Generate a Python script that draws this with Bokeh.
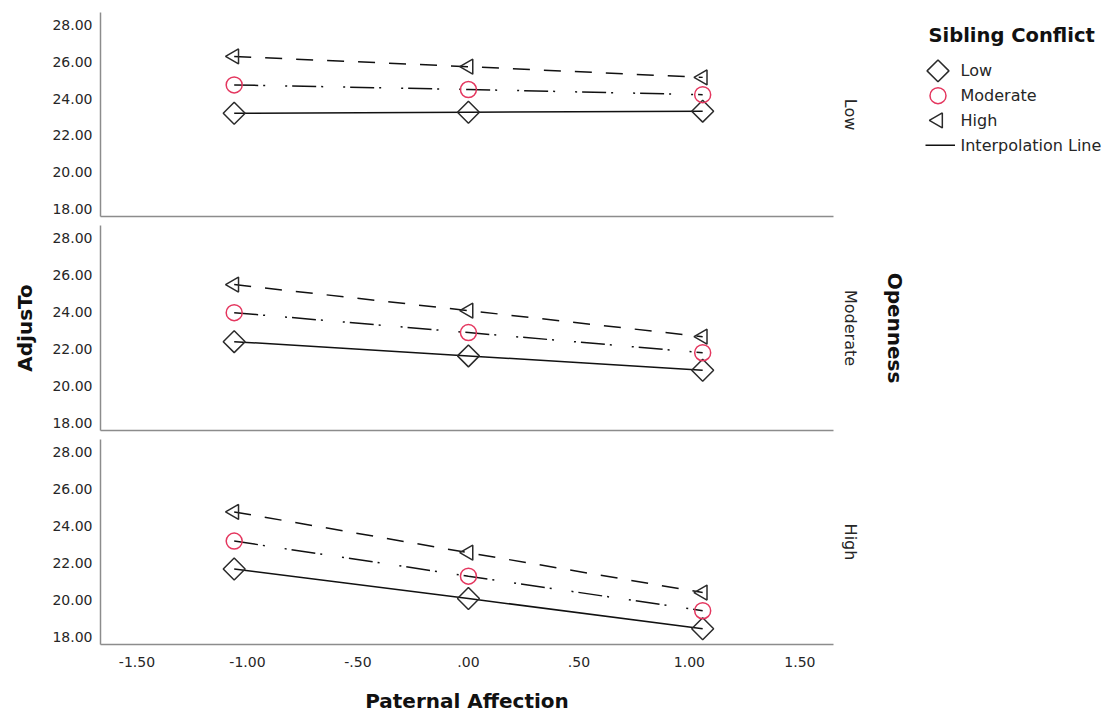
import math

from bokeh.core.properties import value
from bokeh.embed import file_html
from bokeh.layouts import column, row
from bokeh.models import FactorRange, FixedTicker, Range1d, Title
from bokeh.plotting import figure
from bokeh.resources import INLINE

# ---- data -----------------------------------------------------------------
paternal_affection = [-1.06, 0.0, 1.06]
openness_levels = ["Low", "Moderate", "High"]
conflict_levels = ["Low", "Moderate", "High"]

# mean AdjusTo for each Openness level, one list per Sibling Conflict level
low_openness_low_conflict = [23.20, 23.25, 23.31]
low_openness_moderate_conflict = [24.74, 24.49, 24.21]
low_openness_high_conflict = [26.29, 25.73, 25.15]

moderate_openness_low_conflict = [22.39, 21.62, 20.84]
moderate_openness_moderate_conflict = [23.96, 22.88, 21.79]
moderate_openness_high_conflict = [25.48, 24.07, 22.66]

high_openness_low_conflict = [21.67, 20.07, 18.43]
high_openness_moderate_conflict = [23.18, 21.28, 19.41]
high_openness_high_conflict = [24.76, 22.55, 20.39]

x_ticks = [-1.5, -1.0, -0.5, 0.0, 0.5, 1.0, 1.5]
x_tick_labels = ["-1.50", "-1.00", "-.50", ".00", ".50", "1.00", "1.50"]
y_ticks = [18, 20, 22, 24, 26, 28]
y_tick_labels = ["18.00", "20.00", "22.00", "24.00", "26.00", "28.00"]

legend_entries = conflict_levels + ["Interpolation Line"]

panel_series = {
    "Low": [low_openness_low_conflict, low_openness_moderate_conflict,
            low_openness_high_conflict],
    "Moderate": [moderate_openness_low_conflict, moderate_openness_moderate_conflict,
                 moderate_openness_high_conflict],
    "High": [high_openness_low_conflict, high_openness_moderate_conflict,
             high_openness_high_conflict],
}

# ---- styling --------------------------------------------------------------
FONT = "DejaVu Sans"
INK = "#262626"
AXIS_GREY = "#8c8c8c"
RED = "#e4375f"

marker_style = {
    "Low": dict(marker="square", size=15.5, angle=math.pi / 4, line_color="#2a2a2a"),
    "Moderate": dict(marker="circle", size=16, angle=0.0, line_color=RED),
    "High": dict(marker="triangle", size=15, angle=math.pi / 2, line_color="#2a2a2a"),
}
line_dash = {"Low": "solid", "Moderate": "24 5 2 20 2 5", "High": "17 14"}

LEFT_BORDER = 100
FRAME_W = 733
RIGHT_BORDER = 92
PAGE_W = 1106
x_range = Range1d(-1.665, 1.652)


def strip_title(text, size, style, standoff):
    return Title(text=text, align="center", text_font=FONT, text_font_size=size,
                 text_font_style=style, text_color=INK if style == "normal" else "#111111",
                 standoff=standoff, offset=0)


def make_panel(level, frame_h, border_top, border_bottom, bottom_axis, y_label):
    p = figure(
        frame_width=FRAME_W, frame_height=frame_h,
        x_range=x_range, y_range=Range1d(17.58, 28.68),
        min_border_left=LEFT_BORDER, min_border_right=RIGHT_BORDER,
        min_border_top=border_top, min_border_bottom=border_bottom,
        output_backend="svg", toolbar_location=None,
    )
    p.outline_line_color = None
    p.grid.visible = False
    p.background_fill_color = "white"
    p.border_fill_color = "white"

    # y axis
    yax = p.yaxis[0]
    yax.ticker = FixedTicker(ticks=y_ticks)
    yax.major_label_overrides = dict(zip(y_ticks, y_tick_labels))
    yax.major_tick_line_color = None
    yax.major_tick_out = 0
    yax.major_tick_in = 0
    yax.minor_tick_line_color = None
    yax.axis_line_color = AXIS_GREY
    yax.axis_line_width = 1.5
    yax.major_label_standoff = 8
    yax.major_label_text_font = FONT
    yax.major_label_text_font_size = "14px"
    yax.major_label_text_color = INK
    if y_label:
        yax.axis_label = y_label
        yax.axis_label_text_font = FONT
        yax.axis_label_text_font_style = "bold"
        yax.axis_label_text_font_size = "20px"
        yax.axis_label_text_color = "#111111"
        yax.axis_label_standoff = 12

    # x axis
    xax = p.xaxis[0]
    xax.axis_line_color = AXIS_GREY
    xax.axis_line_width = 1.5
    xax.major_tick_line_color = None
    xax.major_tick_out = 0
    xax.major_tick_in = 0
    xax.minor_tick_line_color = None
    if bottom_axis:
        xax.ticker = FixedTicker(ticks=x_ticks)
        xax.major_label_overrides = dict(zip(x_ticks, x_tick_labels))
        xax.major_label_standoff = 12
        xax.major_label_text_font = FONT
        xax.major_label_text_font_size = "14px"
        xax.major_label_text_color = INK
        xax.axis_label = "Paternal Affection"
        xax.axis_label_text_font = FONT
        xax.axis_label_text_font_style = "bold"
        xax.axis_label_text_font_size = "20px"
        xax.axis_label_text_color = "#111111"
        xax.axis_label_standoff = 19
    else:
        xax.ticker = FixedTicker(ticks=[])

    for conflict, values in zip(conflict_levels, panel_series[level]):
        p.line(paternal_affection, values, line_color="#111111",
               line_width=1.5, line_dash=line_dash[conflict])
        st = marker_style[conflict]
        p.scatter(paternal_affection, values, marker=st["marker"], size=st["size"],
                  angle=st["angle"], fill_color=None, line_color=st["line_color"],
                  line_width=1.5)

    # facet strip label on the right
    p.add_layout(strip_title(level, "16px", "normal", 14), "right")
    return p


top = make_panel("Low", 204, 12, 4, False, None)
mid = make_panel("Moderate", 205, 5, 4, False, "AdjusTo")
bot = make_panel("High", 205, 5, 69, True, None)

mid.add_layout(strip_title("Openness", "20px", "bold", 28), "right")

# ---- legend ---------------------------------------------------------------
legend_left = LEFT_BORDER + FRAME_W + RIGHT_BORDER
legend_w = PAGE_W - legend_left
key_x = 937.5 - legend_left

leg = figure(
    frame_width=legend_w, frame_height=99,
    x_range=Range1d(-key_x, legend_w - key_x),
    y_range=FactorRange(factors=list(reversed(legend_entries)), range_padding=0),
    min_border_left=0, min_border_right=0, min_border_top=58, min_border_bottom=0,
    output_backend="svg", toolbar_location=None,
)
leg.axis.visible = False
leg.grid.visible = False
leg.outline_line_color = None
leg.title.text = "Sibling Conflict"
leg.title.text_font = FONT
leg.title.text_font_style = "bold"
leg.title.text_font_size = "19.5px"
leg.title.text_color = "#111111"
leg.title.align = "left"
leg.title.offset = 928 - legend_left
leg.title.standoff = 24

for conflict in conflict_levels:
    st = marker_style[conflict]
    leg.scatter([0], [conflict], marker=st["marker"], size=st["size"], angle=st["angle"],
                fill_color=None, line_color=st["line_color"], line_width=1.5)
leg.scatter([0], ["Interpolation Line"], marker="dash", size=34,
            line_color="#111111", line_width=1.5)
leg.text([0] * len(legend_entries), legend_entries, text=legend_entries,
         x_offset=22.5, text_align="left", text_baseline="middle",
         text_font=value(FONT), text_font_size=value("16px"), text_color=INK)

layout = row(column(top, mid, bot), leg)

open("out.html", "w").write(file_html(layout, INLINE))
